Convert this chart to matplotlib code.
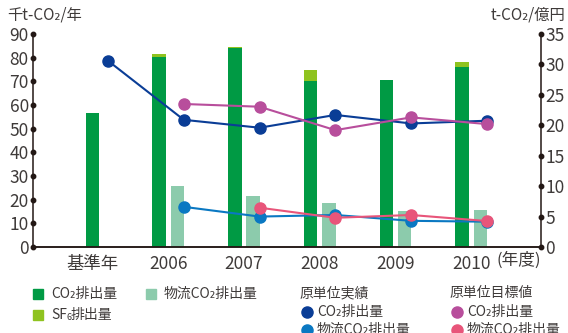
import matplotlib
matplotlib.use("Agg")
import matplotlib.pyplot as plt
from matplotlib.patches import Rectangle
from matplotlib.lines import Line2D
import numpy as np

plt.rcParams['font.family'] = ['Noto Sans CJK JP', 'DejaVu Sans']

categories = ['基準年', '2006', '2007', '2008', '2009', '2010']
co2_emission = [56.5, 80.1, 84.1, 70.1, 70.6, 76.2]
sf6_emission = [0.0, 1.4, 0.5, 4.7, 0.0, 2.0]
logistics_co2 = [None, 25.9, 21.7, 18.5, 15.1, 15.6]

intensity_actual = [30.6, 20.9, 19.6, 21.7, 20.3, 20.75]
intensity_target = [None, 23.5, 23.05, 19.2, 21.3, 20.2]
logistics_actual = [None, 6.6, 5.0, 5.26, 4.3, 4.16]
logistics_target = [None, None, 6.46, 4.8, 5.26, 4.27]

left_ticks = list(range(0, 91, 10))
right_ticks = list(range(0, 36, 5))

C_GREEN = '#009a44'
C_SF6 = '#8fc31f'
C_LIGHT = '#8ccbac'
C_DBLUE = '#0a3d96'
C_BLUE = '#0a78c2'
C_MAG = '#b84e9c'
C_PINK = '#e8557a'
C_TXT = '#3e3a39'
C_AX = '#231815'

W, H = 568, 333
fig = plt.figure(figsize=(W / 100, H / 100), dpi=100)


def fx(x):
    return x / W


def fy(y):
    return 1 - y / H


ax = fig.add_axes([fx(33), fy(247), fx(541) - fx(33), fy(34) - fy(247)])
ax2 = ax.twinx()

x = np.arange(len(categories))
bw = 0.18
off = 0.12
moff = 0.205

gx = np.where(x == 0, x, x - off)
ax.bar(gx, co2_emission, width=bw, color=C_GREEN, zorder=2)
ax.bar(gx, sf6_emission, bottom=co2_emission, width=bw, color=C_SF6, zorder=2)
lx = [xi + off for xi, v in zip(x, logistics_co2) if v is not None]
lv = [v for v in logistics_co2 if v is not None]
ax.bar(lx, lv, width=bw, color=C_LIGHT, zorder=2)

ax.set_xlim(-0.785, 5.92)
ax.set_ylim(0, 90)
ax2.set_ylim(0, 35)


def series(vals):
    xs = [xi + moff for xi, v in zip(x, vals) if v is not None]
    vs = [v for v in vals if v is not None]
    return xs, vs


for vals, col in [(intensity_actual, C_DBLUE), (logistics_actual, C_BLUE),
                  (intensity_target, C_MAG), (logistics_target, C_PINK)]:
    xs, vs = series(vals)
    ax2.plot(xs, vs, color=col, lw=1.5, marker='o', ms=8, zorder=3)

for a in (ax, ax2):
    a.spines['top'].set_visible(False)
    for s in ('left', 'right', 'bottom'):
        a.spines[s].set_color(C_AX)
        a.spines[s].set_linewidth(1.1)
    a.tick_params(length=0, colors=C_TXT, labelsize=12.5)

ax.spines['right'].set_visible(False)
ax2.spines['left'].set_visible(False)

ax.set_yticks(left_ticks)
ax.set_yticklabels([str(t) for t in left_ticks])
ax.tick_params(axis='y', pad=3)
ax2.set_yticks(right_ticks)
ax2.set_yticklabels([str(t) for t in right_ticks])
ax2.tick_params(axis='y', pad=3)
ax.set_xticks(x)
ax.set_xticklabels(categories)
ax.tick_params(axis='x', pad=6)

ax.plot([0] * len(left_ticks), left_ticks, 'o', ms=3.2, color=C_AX,
        transform=ax.get_yaxis_transform(), clip_on=False, zorder=5)
ax2.plot([1] * len(right_ticks), right_ticks, 'o', ms=3.2, color=C_AX,
         transform=ax2.get_yaxis_transform(), clip_on=False, zorder=5)

fig.text(fx(497), fy(260), '(年度)', fontsize=12, color=C_TXT,
         ha='left', va='center')

fig.text(fx(7), fy(15), '千t-CO₂/年', fontsize=11, color=C_TXT,
         ha='left', va='center')
fig.text(fx(565), fy(15), 't-CO₂/億円', fontsize=11, color=C_TXT,
         ha='right', va='center')


def square(x0, y0, col):
    fig.add_artist(Rectangle((fx(x0), fy(y0 + 10)), fx(10), 10 / H,
                             color=col, transform=fig.transFigure))


def ltext(x0, y0, s, **kw):
    return fig.text(fx(x0), fy(y0), s, fontsize=10, color=C_TXT, ha='left',
                    va='center', **kw)


def dot(x0, y0, col):
    fig.add_artist(Line2D([fx(x0)], [fy(y0)], marker='o', ms=8, color=col,
                          transform=fig.transFigure))


square(33, 289, C_GREEN)
ltext(51, 294, 'CO₂排出量')
square(146, 289, C_LIGHT)
ltext(164, 294, '物流CO₂排出量')
square(33, 310, C_SF6)
ltext(51, 315, 'SF')
fig.text(fx(66.5), fy(318), '6', fontsize=6.5, color=C_TXT, ha='left', va='center')
ltext(71, 315, '排出量')

ltext(300, 293, '原単位実績')
dot(307, 312, C_DBLUE)
ltext(317, 312, 'CO₂排出量')
dot(307, 330, C_BLUE)
ltext(317, 330, '物流CO₂排出量')

ltext(450, 293, '原単位目標値')
dot(457, 312, C_MAG)
ltext(467, 312, 'CO₂排出量')
dot(457, 330, C_PINK)
ltext(467, 330, '物流CO₂排出量')

fig.savefig('out.png', dpi=100)
